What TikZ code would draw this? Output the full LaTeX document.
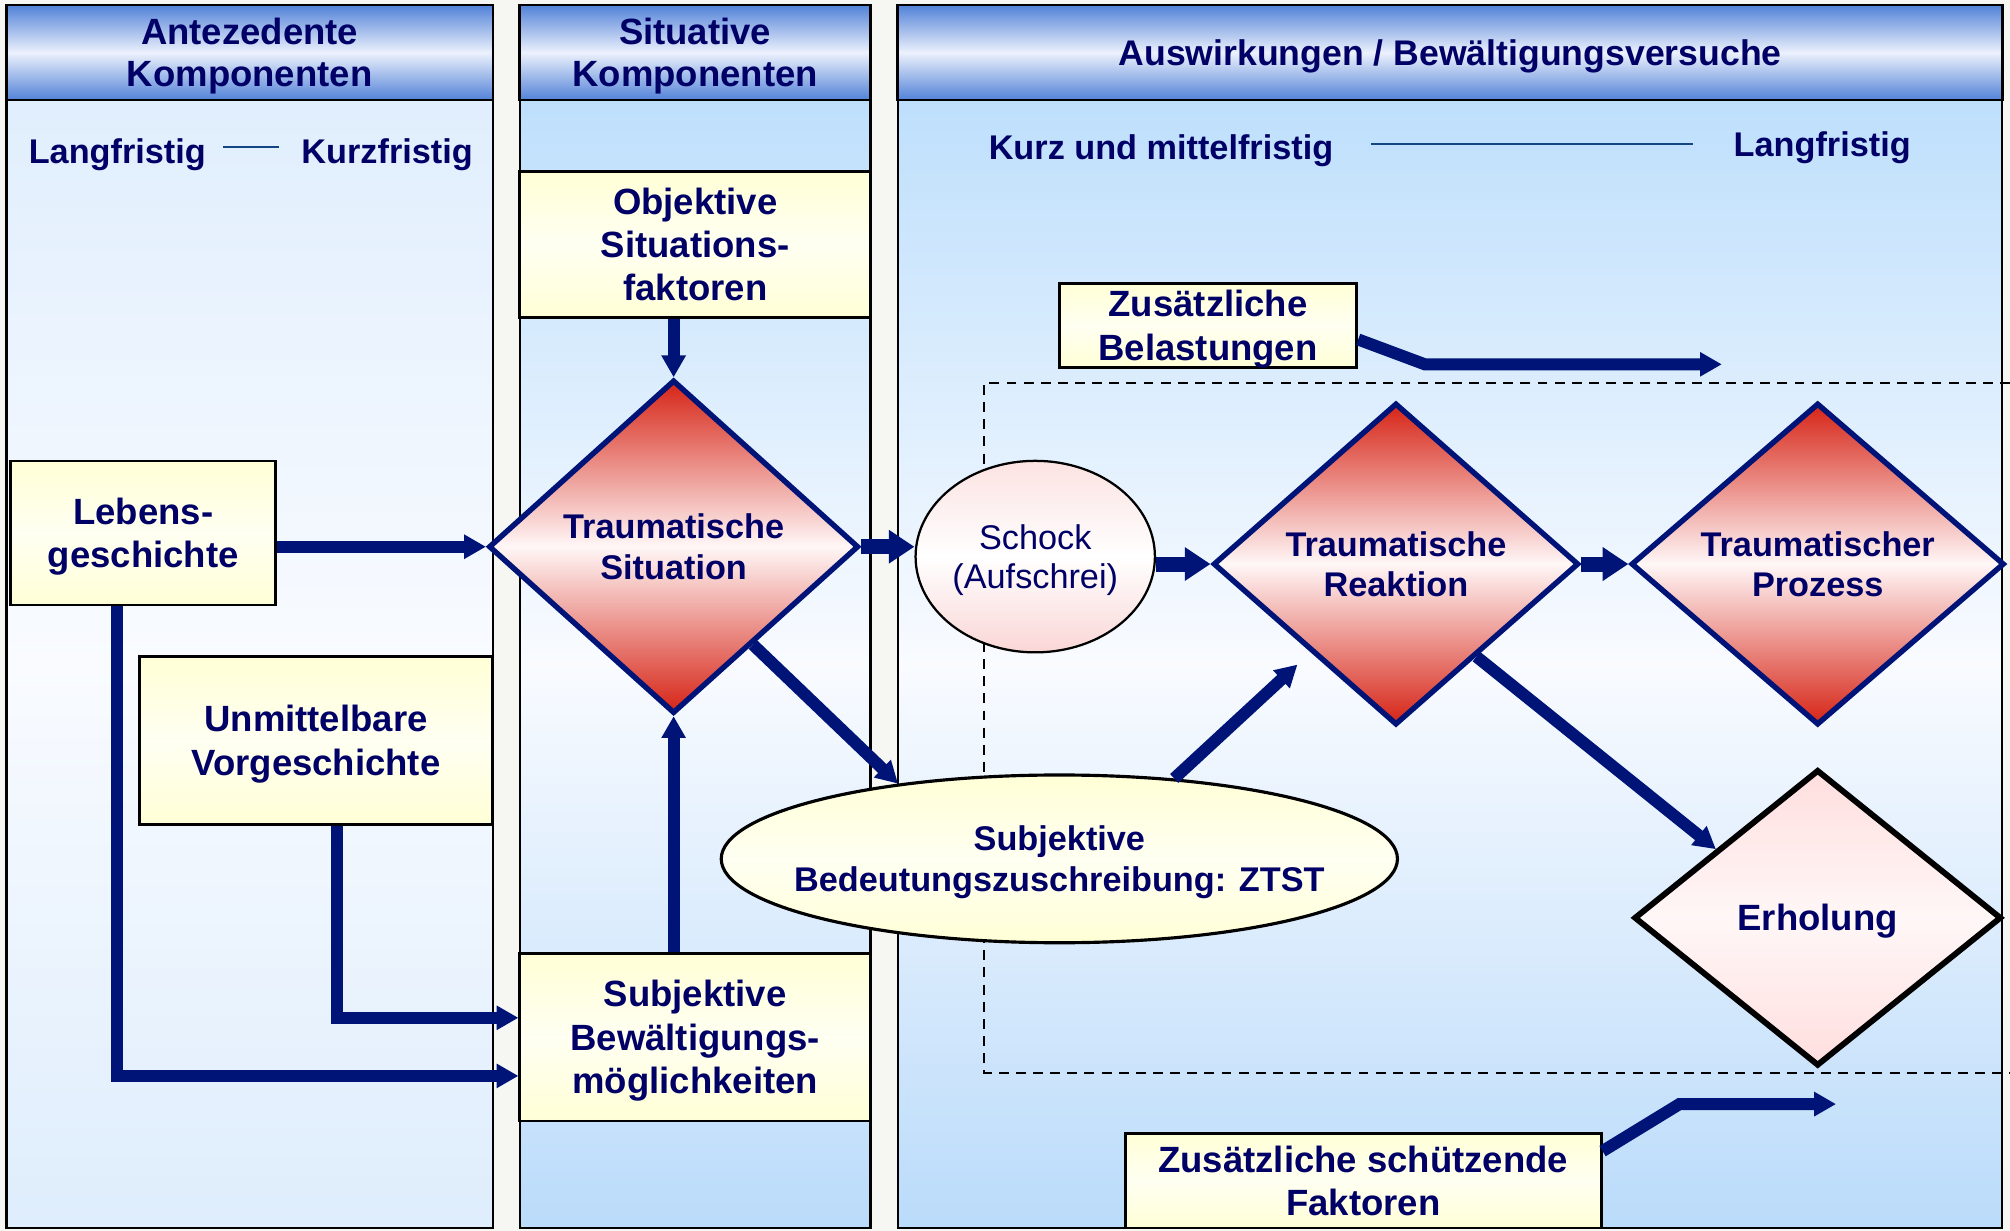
\documentclass[tikz,border=0pt]{standalone}
\usepackage{fontspec}
\setmainfont{Liberation Sans}
\usetikzlibrary{arrows.meta,shapes.geometric}

\definecolor{txtnavy}{RGB}{0,0,102}
\definecolor{arrnavy}{RGB}{0,20,120}
\definecolor{hdrblue}{RGB}{82,130,216}
\definecolor{hdrlight}{RGB}{236,241,252}
\definecolor{bgcol}{RGB}{246,246,242}
\definecolor{colAtop}{RGB}{224,238,253}
\definecolor{colAbot}{RGB}{222,237,252}
\definecolor{colBtop}{RGB}{190,223,252}
\definecolor{colBbot}{RGB}{186,219,250}
\definecolor{colmid}{RGB}{249,251,255}
\definecolor{boxyel}{RGB}{255,255,214}
\definecolor{boxmid}{RGB}{255,255,242}
\definecolor{diared}{RGB}{214,36,22}
\definecolor{diamid}{RGB}{255,247,247}
\definecolor{pinktop}{RGB}{252,226,226}
\definecolor{pinkbot}{RGB}{250,214,214}
\definecolor{erhpink}{RGB}{255,222,222}
\definecolor{timeline}{RGB}{20,70,130}

\tikzset{
    colA/.style={draw=black, line width=0.5pt, top color=colAtop, bottom color=colAbot, middle color=colmid},
    colB/.style={draw=black, line width=0.5pt, top color=colBtop, bottom color=colBbot, middle color=colmid},
    hdr/.style={draw=black, line width=0.6pt, top color=hdrblue, bottom color=hdrblue, middle color=hdrlight, minimum height=0.74cm, inner sep=0pt, align=center, text=txtnavy, font=\fontsize{8.1}{9.2}\selectfont\bfseries, text height=15pt, text depth=0pt},
    tlbl/.style={anchor=base, inner sep=0pt, text=txtnavy, font=\fontsize{7.6}{9}\selectfont\bfseries},
    tline/.style={draw=timeline, line width=0.5pt},
    box/.style={draw=black, line width=0.6pt, top color=boxyel, bottom color=boxyel, middle color=boxmid, inner sep=0pt, align=center, text=txtnavy, font=\fontsize{8.1}{9.6}\selectfont\bfseries, text height=15.4pt, text depth=0pt},
    trauma/.style={diamond, draw=arrnavy, line width=1.2pt, top color=diared, bottom color=diared, middle color=diamid, inner sep=0pt, align=center, text=txtnavy, font=\fontsize{7.6}{8.9}\selectfont\bfseries, text height=14.34pt, text depth=0pt},
    erhol/.style={diamond, draw=black, line width=1.3pt, top color=erhpink, bottom color=erhpink, middle color=diamid, inner sep=0pt, align=center, text=txtnavy, font=\fontsize{8.1}{9.6}\selectfont\bfseries, text height=5.8pt, text depth=0pt},
    schockell/.style={ellipse, draw=black, line width=0.5pt, top color=pinktop, bottom color=pinkbot, middle color=white, inner sep=0pt, align=center, text=txtnavy, font=\fontsize{7.6}{8.7}\selectfont, text height=14.14pt, text depth=0pt},
    ztstell/.style={ellipse, draw=black, line width=0.7pt, top color=boxyel, bottom color=boxyel, middle color=boxmid, inner ysep=0pt, inner xsep=-0.25cm, align=center, text=txtnavy, font=\fontsize{7.6}{9.25}\selectfont\bfseries, text height=14.69pt, text depth=0pt},
    dashbox/.style={draw=black, line width=0.5pt, dash pattern=on 2.2pt off 1.6pt},
    arr/.style={draw=arrnavy, line width=0.094cm, line join=miter, -{Triangle[width=0.18cm, length=0.17cm]}},
    arrthick/.style={draw=arrnavy, line width=0.117cm, -{Triangle[width=0.25cm, length=0.2cm]}}
}

\begin{document}
        \begin{tikzpicture}[x=0.01cm, y=-0.01cm]
            \useasboundingbox (0, 0) rectangle (1568, 960);
            \fill[bgcol] (0, 0) rectangle (1568, 960);

            \path[colA] (5, 78) rectangle (384.5, 958);
            \path[colB] (405.5, 78) rectangle (679, 958);
            \path[colB] (700.5, 78) rectangle (1562, 958);

            \node (hdA) at (194.75, 41) [hdr, minimum width=3.795cm] {Antezedente\\Komponenten};
            \node (hdB) at (542.25, 41) [hdr, minimum width=2.735cm] {Situative\\Komponenten};
            \node (hdC) at (1131.25, 41) [hdr, minimum width=8.615cm, font=\fontsize{7.9}{9.2}\selectfont\bfseries, text height=5.66pt] {Auswirkungen / Bewältigungsversuche};

            \node (lang1) at (91.5, 127.4) [tlbl] {Langfristig};
            \node (kurz1) at (302, 127.4) [tlbl] {Kurzfristig};
            \draw[tline] ([xshift=0.13cm, yshift=0.13cm]lang1.base east) -- ([xshift=-0.17cm, yshift=0.13cm]kurz1.base west);

            \node (kurz2) at (905.7, 124.8) [tlbl] {Kurz und mittelfristig};
            \node (lang2) at (1421.5, 122.2) [tlbl] {Langfristig};
            \draw[tline] ([xshift=0.286cm, yshift=0.122cm]kurz2.base east) -- ++(251, 0);

            \draw[dashbox] (1568, 298.7) -- (767.9, 298.7) -- (767.9, 837) -- (1568, 837);

            \node (obj) at (542.4, 190.8) [box, text height=25pt, minimum width=2.736cm, minimum height=1.139cm] {Objektive\\Situations-\\faktoren};
            \node (leb) at (111.7, 415.8) [box, minimum width=2.064cm, minimum height=1.124cm] {Lebens-\\geschichte};
            \node (unm) at (246.5, 577.7) [box, minimum width=2.75cm, minimum height=1.307cm] {Unmittelbare\\Vorgeschichte};
            \node (subbew) at (542.3, 809.1) [box, text height=25pt, minimum width=2.735cm, minimum height=1.308cm] {Subjektive\\Bewältigungs-\\möglichkeiten};
            \node (belast) at (942.4, 253.8) [box, minimum width=2.32cm, minimum height=0.655cm] {Zusätzliche\\Belastungen};
            \node (schuetz) at (1063.5, 921) [box, minimum width=3.71cm, minimum height=0.74cm] {Zusätzliche schützende\\Faktoren};

            \node (sit) at (525.5, 426.5) [trauma, minimum width=2.885cm, minimum height=2.6cm] {Traumatische\\Situation};
            \node (reak) at (1089, 440) [trauma, minimum width=2.85cm, minimum height=2.51cm] {Traumatische\\Reaktion};
            \node (proz) at (1418, 440) [trauma, minimum width=2.91cm, minimum height=2.51cm] {Traumatischer\\Prozess};
            \node (erh) at (1418, 716) [erhol, minimum width=2.865cm, minimum height=2.31cm] {Erholung};

            \node (schock) at (807.6, 434.2) [schockell, minimum width=1.866cm, minimum height=1.493cm] {Schock\\(Aufschrei)};
            \node (ztst) at (826.4, 670) [ztstell, minimum width=5.272cm, minimum height=1.308cm] {Subjektive\\Bedeutungszuschreibung: ZTST};

            \coordinate (belastend) at (1343.2, 284.2);
            \coordinate (schuetzend) at (1432.3, 861.3);

            \draw[arr] (leb.east |- sit.west) -- (sit.west);
            \draw[arr] (obj.south -| sit.north) -- (sit.north);
            \draw[arr] (subbew.north -| sit.south) -- (sit.south);
            \draw[arr] ([xshift=-0.205cm]leb.south) |- ([yshift=-0.302cm]subbew.west);
            \draw[arr] ([xshift=0.162cm]unm.south) |- ([yshift=0.151cm]subbew.west);

            \draw[arrthick] (sit.east) -- (sit.east -| schock.west);
            \draw[arrthick] (schock.east |- reak.west) -- (reak.west);
            \draw[arrthick] (reak.east) -- (proz.west);

            \draw[arr] (sit.-51) -- (ztst.155);
            \draw[arr, shorten >=0.14cm] (ztst.35) -- (reak.226);
            \draw[arr] (reak.-49) -- (erh.146);

            \draw[arr] ([yshift=-0.11cm]belast.east) -- ++(52, 19.4) -- (belastend);
            \draw[arr] ([yshift=0.23cm]schuetz.east) -- ++(60, -36.7) -- (schuetzend);
        \end{tikzpicture}
\end{document}
